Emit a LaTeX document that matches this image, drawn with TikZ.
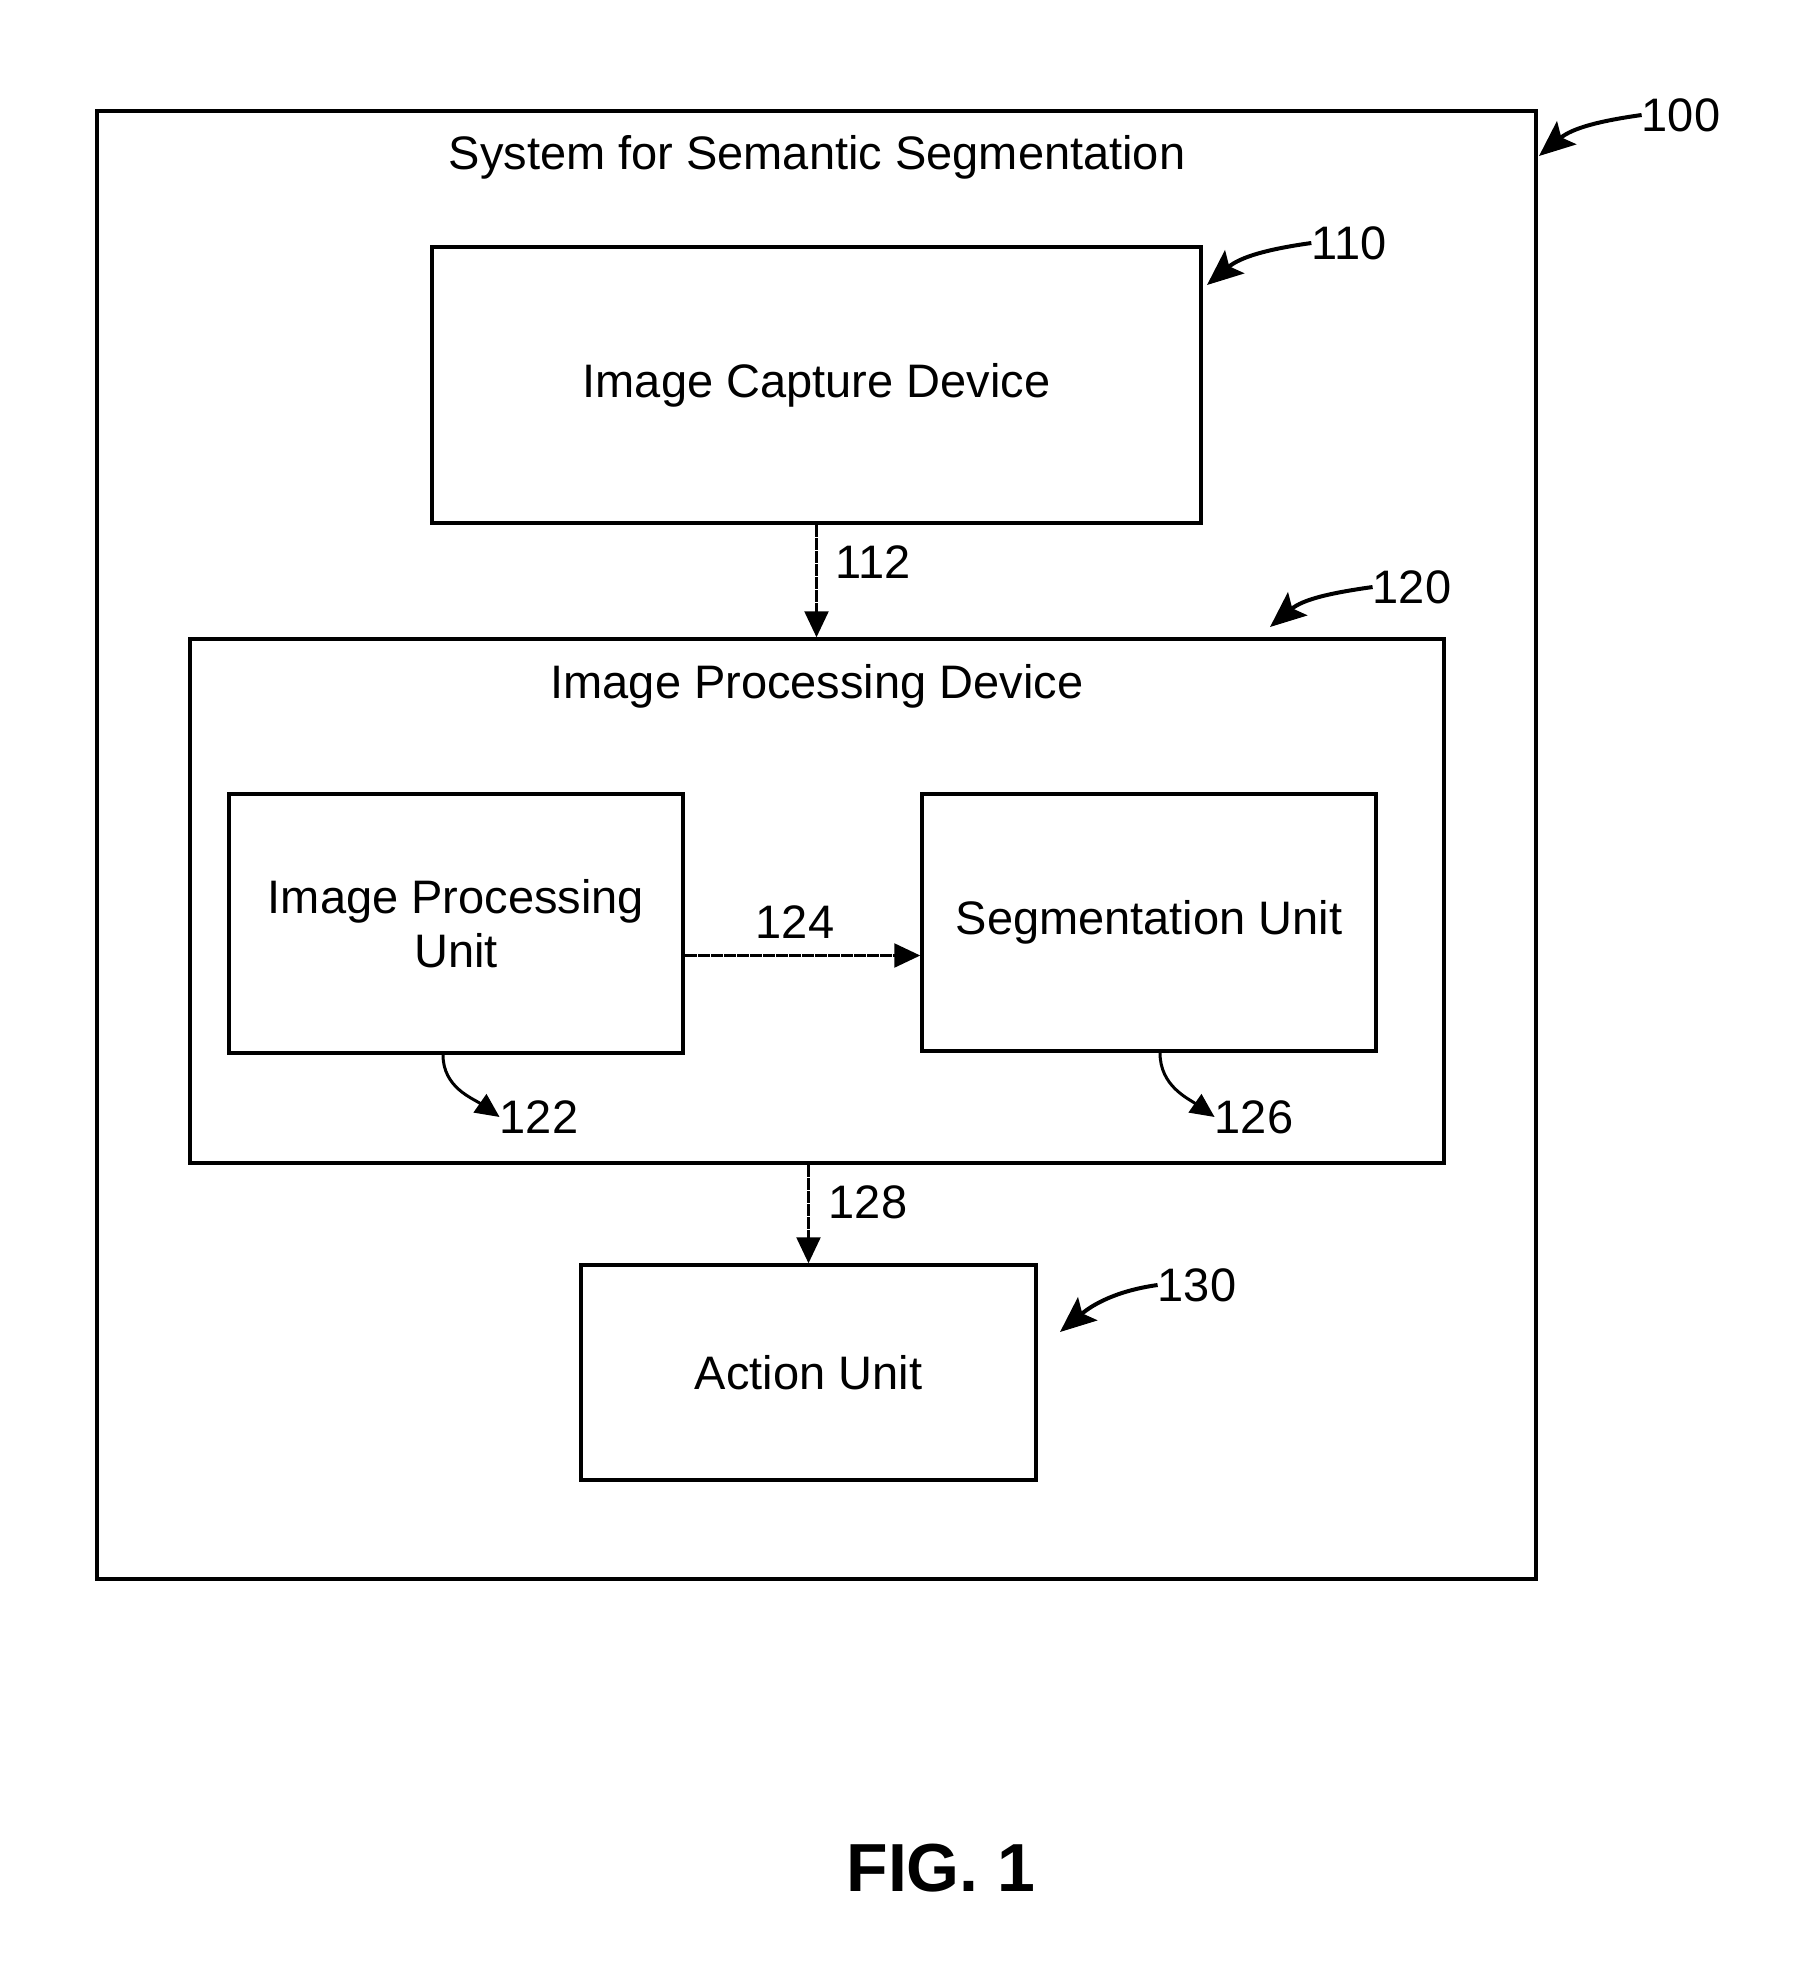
\documentclass[tikz,border=0pt]{standalone}
\usepackage{fontspec}
\setmainfont{Liberation Sans}
\usetikzlibrary{arrows.meta,calc}
\begin{document}
\begin{tikzpicture}[x=1pt,y=-1pt,
 box/.style={draw, line width=3.5pt, inner sep=0pt, align=center, font=\fontsize{47}{54}\selectfont},
 txt/.style={inner sep=0pt, font=\fontsize{47}{54}\selectfont},
 flow/.style={line width=2.4pt, dash pattern=on 12pt off 1pt, -{Triangle[length=26pt,width=24pt]}},
 lead/.style={line width=4pt, -{Stealth[length=36pt,width=30pt,inset=7pt]}},
 hook/.style={line width=3pt, -{Triangle[length=24pt,width=22pt]}}]
\useasboundingbox (0,0) rectangle (1794,1976);
\fill[white] (0,0) rectangle (1794,1976);
% boxes
\node[box, minimum width=1439pt, minimum height=1468pt] (sys) at (816.5,845) {};
\node[txt, anchor=base] (systitle) at (817,169) {System for Semantic Segmentation};
\node[box, minimum width=769pt, minimum height=276pt] (icd) at (816.5,385) {Image Capture Device};
\node[box, minimum width=1254pt, minimum height=524pt] (ipd) at (817,901) {};
\node[txt, anchor=base] (ipdtitle) at (817,698) {Image Processing Device};
\node[box, minimum width=454pt, minimum height=259pt] (ipu) at (456,923.5) {Image Processing\\Unit};
\node[box, minimum width=454pt, minimum height=257pt] (seg) at (1149,922.5) {Segmentation Unit};
\node[box, minimum width=455pt, minimum height=215pt] (act) at (808.5,1372.5) {Action Unit};
% flow connectors
\draw[flow] (icd.south) -- (icd.south |- ipd.north);
\node[txt] (n112) at (873,562) {112};
\draw[flow] ([yshift=-32pt]ipu.east) -- ([yshift=-32pt]ipu.east -| seg.west);
\node[txt] (n124) at (795,922) {124};
\draw[flow] (act.north |- ipd.south) -- (act.north);
\node[txt] (n128) at (868,1202) {128};
% reference labels with leaders
\node[txt] (n100) at (1681,115) {100};
\coordinate (t100) at (1539,156);
\draw[lead] (n100.west) to[out=188,in=40] (t100);
\node[txt] (n110) at (1349,243) {110};
\coordinate (t110) at (1207,285);
\draw[lead] (n110.west) to[out=188,in=40] (t110);
\node[txt] (n120) at (1412,587) {120};
\coordinate (t120) at (1270,627);
\draw[lead] (n120.west) to[out=188,in=40] (t120);
\node[txt] (n130) at (1197,1285) {130};
\coordinate (t130) at (1060,1332);
\draw[lead] (n130.west) to[out=188,in=40] (t130);
\node[txt] (n122) at (539,1117) {122};
\draw[hook] ([xshift=-13pt]ipu.south) to[out=-90,in=145] (n122.west);
\node[txt] (n126) at (1254,1117) {126};
\draw[hook] ([xshift=11pt]seg.south) to[out=-90,in=145] (n126.west);
% figure caption
\node[inner sep=0pt, font=\fontsize{68}{80}\selectfont\bfseries] (fig) at (941,1868) {FIG. 1};
\end{tikzpicture}
\end{document}
